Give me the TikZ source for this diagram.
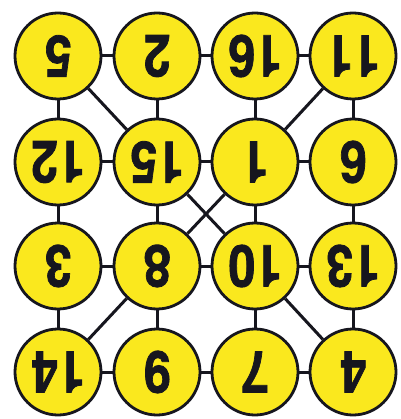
\documentclass[tikz,border=0pt]{standalone}
\usepackage{fontspec}
\usepackage{graphicx}
\newfontfamily\numfont[FakeBold=1.4]{TeX Gyre Heros}
\definecolor{ball}{RGB}{250,232,30}
\definecolor{ink}{RGB}{22,22,30}
\newcommand{\nm}[1]{\scalebox{0.84}[1]{#1}}
\begin{document}
\begin{tikzpicture}[x=1pt,y=-1pt,
  ball/.style={circle,draw=ink,line width=2.8pt,fill=ball,minimum size=86pt,inner sep=0pt,
    rotate=180,font=\numfont\bfseries\fontsize{58}{58}\selectfont,text=ink},
  link/.style={draw=ink,line width=3pt}]
\useasboundingbox (0,0) rectangle (400,419);
\fill[white] (0,0) rectangle (400,419);
% row 1
\node[ball] (a11) at (58,56)   {\nm{5}};
\node[ball] (a12) at (157,56)  {\nm{2}};
\node[ball] (a13) at (255,56)  {\nm{16}};
\node[ball] (a14) at (353,56)  {\nm{11}};
% row 2
\node[ball] (a21) at (58,162)  {\nm{12}};
\node[ball] (a22) at (157,162) {\nm{15}};
\node[ball] (a23) at (255,162) {\nm{1}};
\node[ball] (a24) at (353,162) {\nm{6}};
% row 3
\node[ball] (a31) at (58,266)  {\nm{3}};
\node[ball] (a32) at (157,266) {\nm{8}};
\node[ball] (a33) at (255,266) {\nm{10}};
\node[ball] (a34) at (353,266) {\nm{13}};
% row 4
\node[ball] (a41) at (58,372)  {\nm{14}};
\node[ball] (a42) at (157,372) {\nm{9}};
\node[ball] (a43) at (255,372) {\nm{7}};
\node[ball] (a44) at (353,372) {\nm{4}};
% grid links
\foreach \r in {1,2,3,4}{
  \draw[link] (a\r1) -- (a\r2);
  \draw[link] (a\r2) -- (a\r3);
  \draw[link] (a\r3) -- (a\r4);
}
\foreach \c in {1,2,3,4}{
  \draw[link] (a1\c) -- (a2\c);
  \draw[link] (a2\c) -- (a3\c);
  \draw[link] (a3\c) -- (a4\c);
}
% diagonals
\draw[link] (a11) -- (a22);
\draw[link] (a14) -- (a23);
\draw[link] (a22) -- (a33);
\draw[link] (a23) -- (a32);
\draw[link] (a32) -- (a41);
\draw[link] (a33) -- (a44);
\end{tikzpicture}
\end{document}
